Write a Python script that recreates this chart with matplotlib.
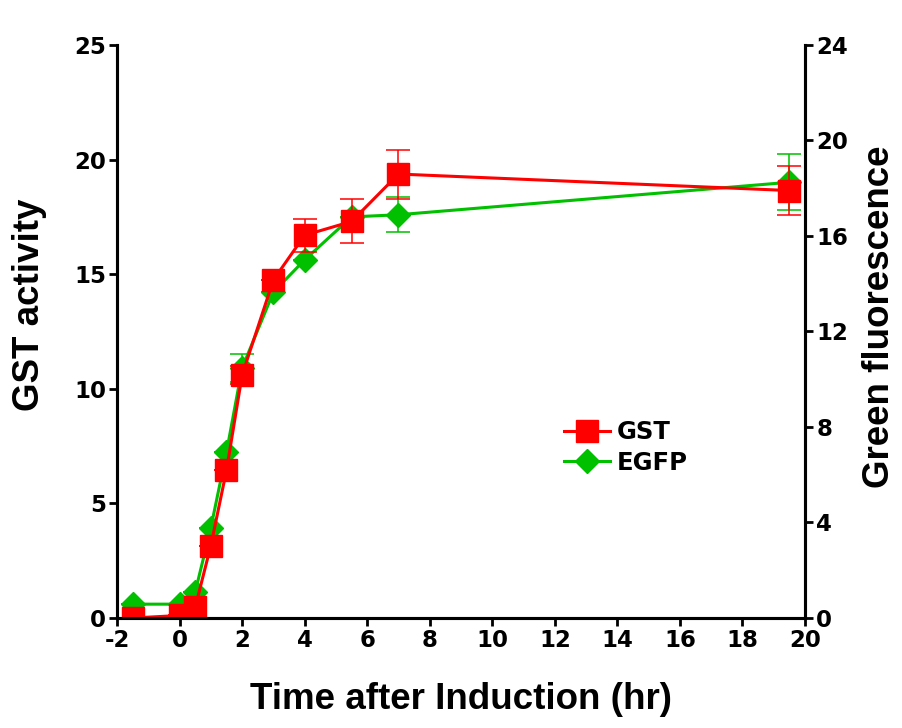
import numpy as np
import matplotlib
matplotlib.use("Agg")
import matplotlib.pyplot as plt

plt.rcParams['font.family'] = ['Liberation Sans', 'DejaVu Sans']
plt.rcParams['axes.unicode_minus'] = False

# time points (hr after induction)
time_hr = [-1.5, 0, 0.5, 1, 1.5, 2, 3, 4, 5.5, 7, 19.5]

# GST activity (left axis)
gst = [0.0, 0.11, 0.47, 3.16, 6.44, 10.6, 14.75, 16.7, 17.3, 19.37, 18.65]
gst_err = [0, 0, 0, 0, 0, 0.4, 0, 0.72, 0.96, 1.07, 1.07]

# EGFP green fluorescence (right axis)
egfp = [0.58, 0.58, 1.09, 3.78, 6.94, 10.47, 13.65, 15.0, 16.8, 16.89, 18.25]
egfp_err = [0, 0, 0, 0, 0, 0.6, 0, 0, 0, 0.73, 1.17]

red = '#ff0000'
green = '#00c000'

fig = plt.figure(figsize=(9.03, 7.28), dpi=100)
ax = fig.add_axes([0.1296, 0.1511, 0.7619, 0.7871])
ax2 = ax.twinx()

# green on the right axis, drawn below the red series
ax2.errorbar(time_hr, egfp, yerr=egfp_err, fmt='none', ecolor=green,
             elinewidth=1.1, capsize=8.6, capthick=1.1)
l2, = ax2.plot(time_hr, egfp, color=green, lw=2.2, marker='D', ms=12,
               mec=green, mfc=green, label='EGFP')

ax.errorbar(time_hr, gst, yerr=gst_err, fmt='none', ecolor=red,
            elinewidth=1.1, capsize=8.6, capthick=1.1)
l1, = ax.plot(time_hr, gst, color=red, lw=2.2, marker='s', ms=16.5,
              mec=red, mfc=red, label='GST')

ax.set_zorder(ax2.get_zorder() + 1)
ax.patch.set_visible(False)

ax.set_xlim(-2, 20)
ax.set_ylim(0, 25)
ax2.set_ylim(0, 24)
ax.set_xticks(np.arange(-2, 21, 2))
ax.set_yticks(np.arange(0, 26, 5))
ax2.set_yticks(np.arange(0, 25, 4))

for a in (ax, ax2):
    a.spines['top'].set_visible(False)
    for s in a.spines.values():
        s.set_linewidth(2.2)
    a.tick_params(width=2, length=6, labelsize=16.5, pad=2)
    for lab in a.get_xticklabels() + a.get_yticklabels():
        lab.set_fontweight('bold')
        lab.set_family('DejaVu Sans')

ax.set_xlabel('Time after Induction (hr)', fontsize=26.5, fontweight='bold')
ax.set_ylabel('GST activity', fontsize=26.5, fontweight='bold')
ax2.set_ylabel('Green fluorescence', fontsize=26.5, fontweight='bold')
ax.xaxis.set_label_coords(0.5, -0.112)
ax.yaxis.set_label_coords(-0.102, 0.546)
ax2.yaxis.set_label_coords(1.083, 0.525)

ax.legend(handles=[l1, l2], loc='center left', bbox_to_anchor=(0.635, 0.2976),
          frameon=False, handlelength=1.9, handletextpad=0.3,
          labelspacing=0.25, borderaxespad=0,
          prop={'size': 17.5, 'weight': 'bold', 'family': 'DejaVu Sans'})

fig.savefig('out.png', dpi=100)
